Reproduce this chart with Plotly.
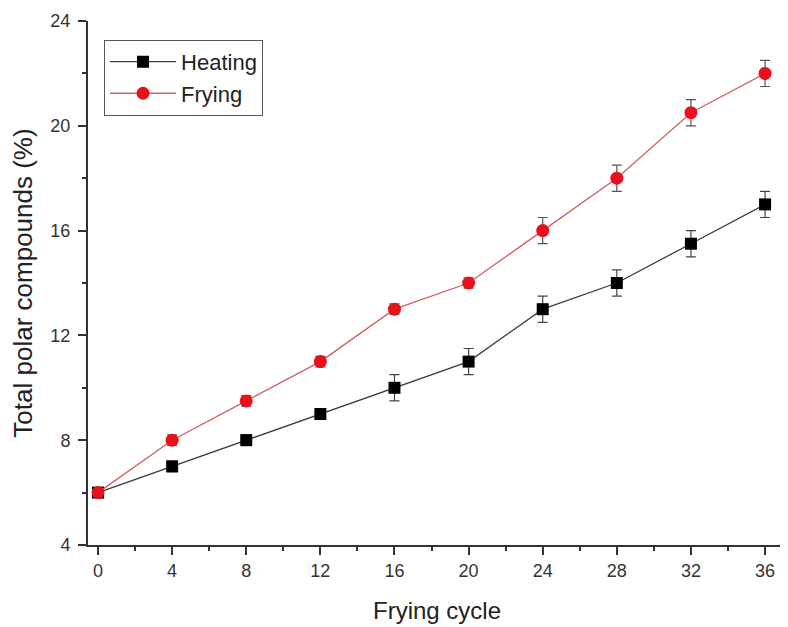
import plotly.graph_objects as go

cycles = [0, 4, 8, 12, 16, 20, 24, 28, 32, 36]
heating = [6, 7, 8, 9, 10, 11, 13, 14, 15.5, 17]
heating_err = [0.1, 0.2, 0.2, 0.2, 0.5, 0.5, 0.5, 0.5, 0.5, 0.5]
frying = [6, 8, 9.5, 11, 13, 14, 16, 18, 20.5, 22]
frying_err = [0.1, 0.2, 0.2, 0.2, 0.2, 0.2, 0.5, 0.5, 0.5, 0.5]
x_ticks = [0, 4, 8, 12, 16, 20, 24, 28, 32, 36]
x_minor = [2, 6, 10, 14, 18, 22, 26, 30, 34]
y_ticks = [4, 8, 12, 16, 20, 24]
y_minor = [6, 10, 14, 18, 22]

FONT = "Liberation Sans, Arial, sans-serif"

fig = go.Figure()
fig.add_trace(go.Scatter(
    x=cycles, y=heating, name="Heating", mode="lines+markers",
    line=dict(color="#3a3a3a", width=1.3),
    marker=dict(symbol="square", size=12, color="black"),
    error_y=dict(type="data", array=heating_err, visible=True, color="#444444", thickness=1.2, width=5),
))
fig.add_trace(go.Scatter(
    x=cycles, y=frying, name="Frying", mode="lines+markers",
    line=dict(color="#d06060", width=1.3),
    marker=dict(symbol="circle", size=13, color="#e8101a"),
    error_y=dict(type="data", array=frying_err, visible=True, color="#555555", thickness=1.2, width=5),
))

fig.update_layout(
    width=780, height=619,
    margin=dict(l=80, r=2, t=13, b=82),
    paper_bgcolor="white", plot_bgcolor="white",
    font=dict(family=FONT, color="#222222"),
    showlegend=True,
    legend=dict(
        x=0.023, y=0.964, xanchor="left", yanchor="top",
        bordercolor="#555555", borderwidth=1, bgcolor="white",
        font=dict(size=22, family=FONT, color="#222222"),
        itemwidth=66, tracegroupgap=0,
    ),
    xaxis=dict(
        range=[-0.54, 37.13], tickmode="array", tickvals=x_ticks,
        ticks="outside", ticklen=8, tickwidth=1.5, tickcolor="#333333",
        showline=True, linecolor="#333333", linewidth=2,
        showgrid=False, zeroline=False, automargin=False,
        tickfont=dict(size=18, family=FONT, color="#333333"),
        minor=dict(tickvals=x_minor, ticks="outside", ticklen=4, tickwidth=1.5, tickcolor="#333333"),
        title=dict(text="Frying cycle", font=dict(size=24, family=FONT, color="#222222"), standoff=23),
    ),
    yaxis=dict(
        range=[4, 24], tickmode="array", tickvals=y_ticks,
        ticks="outside", ticklen=8, tickwidth=1.5, tickcolor="#333333",
        showline=True, linecolor="#333333", linewidth=2,
        showgrid=False, zeroline=False, automargin=False,
        tickfont=dict(size=18, family=FONT, color="#333333"),
        ticklabelstandoff=4,
        minor=dict(tickvals=y_minor, ticks="outside", ticklen=4, tickwidth=1.5, tickcolor="#333333"),
        title=dict(text="Total polar compounds (%)", font=dict(size=26, family=FONT, color="#222222"), standoff=12),
    ),
)

fig.write_html("out.html")
